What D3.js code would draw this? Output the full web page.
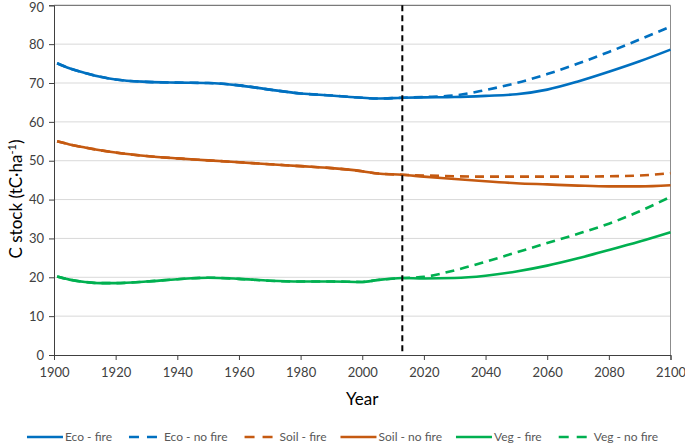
<!DOCTYPE html>
<html>
<head>
<meta charset="utf-8">
<script src="https://cdn.jsdelivr.net/npm/d3@7"></script>
<style>
  html, body { margin: 0; padding: 0; background: #fff; }
  svg { display: block; font-family: Lato, "Open Sans", sans-serif; }
</style>
</head>
<body>
<svg id="chart" width="685" height="445"></svg>
<script>
const years      = [1901,1905,1910,1915,1920,1930,1940,1950,1960,1970,1980,1990,2000,2005,2013,2020,2030,2040,2050,2060,2070,2080,2090,2100];
const ecoFire    = [75.1,73.8,72.6,71.6,70.9,70.3,70.1,70.0,69.4,68.3,67.3,66.8,66.2,66.0,66.2,66.3,66.4,66.7,67.1,68.3,70.4,72.9,75.6,78.6];
const ecoNoFire  = [75.1,73.8,72.6,71.6,70.9,70.3,70.1,70.0,69.4,68.3,67.3,66.8,66.2,66.0,66.2,66.4,66.8,68.2,70.0,72.3,75.0,78.0,81.2,84.5];
const soilFire   = [55.0,54.2,53.4,52.7,52.1,51.2,50.6,50.1,49.6,49.1,48.6,48.1,47.3,46.7,46.4,46.2,46.0,45.9,45.9,45.9,45.9,46.0,46.2,46.8];
const soilNoFire = [55.0,54.2,53.4,52.7,52.1,51.2,50.6,50.1,49.6,49.1,48.6,48.1,47.3,46.7,46.4,45.9,45.3,44.7,44.2,43.9,43.6,43.4,43.4,43.7];
const vegFire    = [20.2,19.4,18.8,18.5,18.5,18.9,19.5,19.9,19.6,19.1,18.9,18.9,18.8,19.3,19.8,19.7,19.8,20.4,21.5,23.0,24.9,27.0,29.2,31.6];
const vegNoFire  = [20.2,19.4,18.8,18.5,18.5,18.9,19.5,19.9,19.6,19.1,18.9,18.9,18.8,19.3,19.8,20.1,21.8,24.0,26.4,28.8,31.2,33.8,37.0,40.7];
const xTicks = [1900,1920,1940,1960,1980,2000,2020,2040,2060,2080,2100];
const yTicks = [0,10,20,30,40,50,60,70,80,90];
const markerYear = 2013;
const seriesNames  = ["Eco - fire","Eco - no fire","Soil - fire","Soil - no fire","Veg - fire","Veg - no fire"];
const seriesColors = ["#0070C0","#0070C0","#C55A11","#C55A11","#00B050","#00B050"];
const seriesDashed = [false,true,true,false,false,true];
const seriesValues = [ecoFire,ecoNoFire,soilFire,soilNoFire,vegFire,vegNoFire];

const svg = d3.select("#chart");
const L = 54, R = 670.5, T = 5.3, B = 355;
const x = d3.scaleLinear().domain([1900,2100]).range([L,R]);
const y = d3.scaleLinear().domain([0,90]).range([B,T]);

// gridlines
svg.append("g").selectAll("line").data(yTicks.filter(v => v>0 && v<90)).join("line")
  .attr("x1",L).attr("x2",R).attr("y1",d=>y(d)).attr("y2",d=>y(d))
  .attr("stroke","#d9d9d9").attr("stroke-width",1);

// plot border (top/right)
svg.append("line").attr("x1",L).attr("x2",R).attr("y1",T).attr("y2",T).attr("stroke","#595959");
svg.append("line").attr("x1",R).attr("x2",R).attr("y1",T).attr("y2",B).attr("stroke","#8c8c8c");

// axes
const xAxis = svg.append("g").attr("transform",`translate(0,${B})`)
  .call(d3.axisBottom(x).tickValues(xTicks).tickFormat(d3.format("d")).tickSize(5).tickPadding(8));
const yAxis = svg.append("g").attr("transform",`translate(${L},0)`)
  .call(d3.axisLeft(y).tickValues(yTicks).tickSize(5).tickPadding(5));
[xAxis,yAxis].forEach(g => {
  g.select(".domain").attr("stroke","#404040");
  g.selectAll(".tick line").attr("stroke","#404040");
  g.selectAll(".tick text").attr("fill","#404040").style("font-size","13px").style("font-family","Lato, sans-serif");
});
yAxis.selectAll(".tick text").filter(d => d === 90).attr("dy","0.45em");

// lines: dashed first, then solid
const line = d3.line().x((d,i)=>x(years[i])).y(d=>y(d)).curve(d3.curveMonotoneX);
const order = [1,2,5,0,3,4];
order.forEach(i => {
  svg.append("path").datum(seriesValues[i])
    .attr("d", line).attr("fill","none")
    .attr("stroke", seriesColors[i]).attr("stroke-width",2.6)
    .attr("stroke-dasharray", seriesDashed[i] ? "9,6" : null);
});

// marker vertical line
svg.append("line").attr("x1",x(markerYear)).attr("x2",x(markerYear)).attr("y1",T).attr("y2",B)
  .attr("stroke","#000").attr("stroke-width",2).attr("stroke-dasharray","6,4");

// axis titles
svg.append("text").attr("x",(L+R)/2).attr("y",405).attr("text-anchor","middle")
  .attr("fill","#000").style("font-size","17px").text("Year");
const yt = svg.append("text").attr("transform","translate(22,199) rotate(-90)").attr("text-anchor","middle")
  .attr("fill","#000").style("font-size","17px");
yt.append("tspan").text("C stock (tC·ha");
yt.append("tspan").attr("baseline-shift","super").style("font-size","11px").text("-1");
yt.append("tspan").text(")");

// legend
const leg = svg.append("g");
const sampleW = 36, textGap = 2, itemGap = 14, legY = 437;
let cx = 0;
const items = [];
seriesNames.forEach((n,i) => {
  const g = leg.append("g");
  if (seriesDashed[i]) {
    g.append("line").attr("x1",3).attr("x2",31).attr("y1",0).attr("y2",0)
      .attr("stroke",seriesColors[i]).attr("stroke-width",2.6).attr("stroke-dasharray","10,8");
  } else {
    g.append("line").attr("x1",0).attr("x2",sampleW).attr("y1",0).attr("y2",0)
      .attr("stroke",seriesColors[i]).attr("stroke-width",2.6);
  }
  const t = g.append("text").attr("x",sampleW+textGap).attr("y",4).attr("fill","#595959")
    .style("font-size","12px").text(n);
  const w = sampleW + textGap + t.node().getComputedTextLength();
  items.push({g, w});
});
const total = d3.sum(items, d=>d.w) + itemGap*(items.length-1);
cx = 342.5 - total/2;
items.forEach(it => { it.g.attr("transform",`translate(${cx},${legY})`); cx += it.w + itemGap; });
</script>
</body>
</html>
